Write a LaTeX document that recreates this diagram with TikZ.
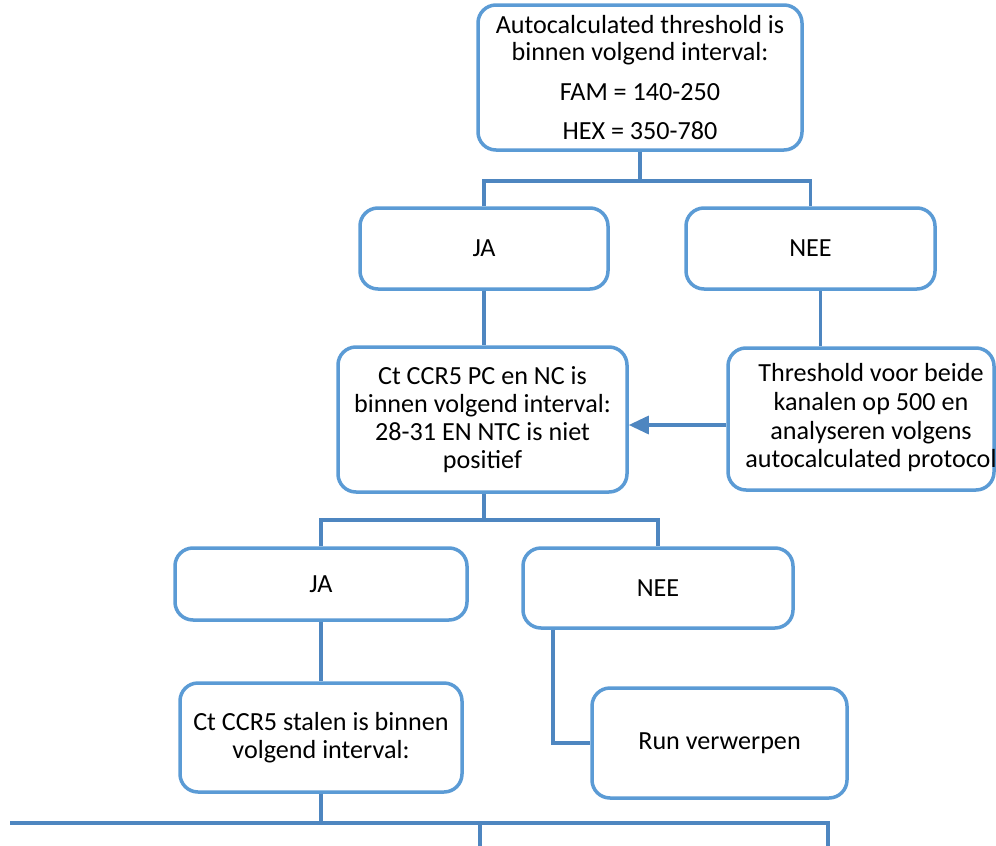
\documentclass[tikz,border=0pt]{standalone}
\usepackage{fontspec}
\setmainfont{Carlito}
\usetikzlibrary{arrows.meta,calc}
\newdimen\px \px=0.75pt
\definecolor{boxblue}{RGB}{91,155,213}
\definecolor{linkblue}{RGB}{78,134,192}
\begin{document}
\begin{tikzpicture}[x=0.75pt,y=-0.75pt,
  box/.style={draw=boxblue, line width=3.5\px, rounded corners=18\px, fill=white, align=center, inner sep=0pt, font=\fontsize{19.6}{20.5}\selectfont},
  link/.style={draw=linkblue, line width=3.2\px},
  txt/.style={align=center, inner sep=0pt, font=\fontsize{19.6}{21.5}\selectfont}]
\useasboundingbox (0,0) rectangle (996,846);

\node[box, minimum width=324\px, minimum height=145\px] (top) at (640,77.5)
  {Autocalculated threshold is\\binnen volgend interval:\\[9.5pt]FAM = 140-250\\[9pt]HEX = 350-780};
\node[box, minimum width=248\px, minimum height=81\px] (ja1) at (484,248.5) {JA};
\node[box, minimum width=249\px, minimum height=81\px] (nee1) at (810.5,248.5) {NEE};
\node[box, minimum width=289\px, minimum height=145\px, font=\fontsize{19.6}{21}\selectfont] (ct) at (482.5,419.5)
  {Ct CCR5 PC en NC is\\binnen volgend interval:\\28-31 EN NTC is niet\\positief};
\node[box, minimum width=266\px, minimum height=142\px] (thr) at (861,419) {};
\node[txt] (thrtext) at (871,418)
  {Threshold voor beide\\kanalen op 500 en\\analyseren volgens\\autocalculated protocol};
\node[box, minimum width=292\px, minimum height=72\px] (ja2) at (321,584) {JA};
\node[box, minimum width=270\px, minimum height=80\px] (nee2) at (658,588) {NEE};
\node[box, minimum width=282\px, minimum height=109\px, font=\fontsize{19.6}{21}\selectfont] (cts) at (321,737.5)
  {Ct CCR5 stalen is binnen\\volgend interval:};
\node[box, minimum width=255\px, minimum height=110\px] (run) at (719.5,743) {Run verwerpen};

% top split
\coordinate (b1) at (640,181);
\draw[link] (top.south) -- (b1);
\draw[link] (ja1.north) |- (b1) -| (nee1.north);
% JA -> Ct
\draw[link] (ja1.south) -- (ct.north -| ja1.south);
% NEE -> Threshold
\draw[link] ([xshift=7.5pt]nee1.south) -- ([xshift=7.5pt]nee1.south |- thr.north);
% Threshold -> Ct
\coordinate (ay) at (0,425);
\draw[link, -{Triangle[length=15pt,width=13.5pt]}] (thr.west |- ay) -- (ct.east |- ay);
% Ct split
\coordinate (b2) at (484,520);
\draw[link] (ct.south -| b2) -- (b2);
\draw[link] (ja2.north) |- (b2) -| (nee2.north);
% JA2 -> Ct stalen
\draw[link] (ja2.south) -- (cts.north);
% NEE2 -> Run
\draw[link] ([xshift=-78.75pt]nee2.south) |- (run.west);
% Ct stalen split (cut off)
\coordinate (b3) at (321,823);
\coordinate (bl) at (10,823);
\coordinate (d1) at (480,846);
\coordinate (d2) at (828,846);
\draw[link] (cts.south) -- (b3);
\draw[link] (bl) -- (b3) -| (d1);
\draw[link] (b3) -| (d2);
\end{tikzpicture}
\end{document}
